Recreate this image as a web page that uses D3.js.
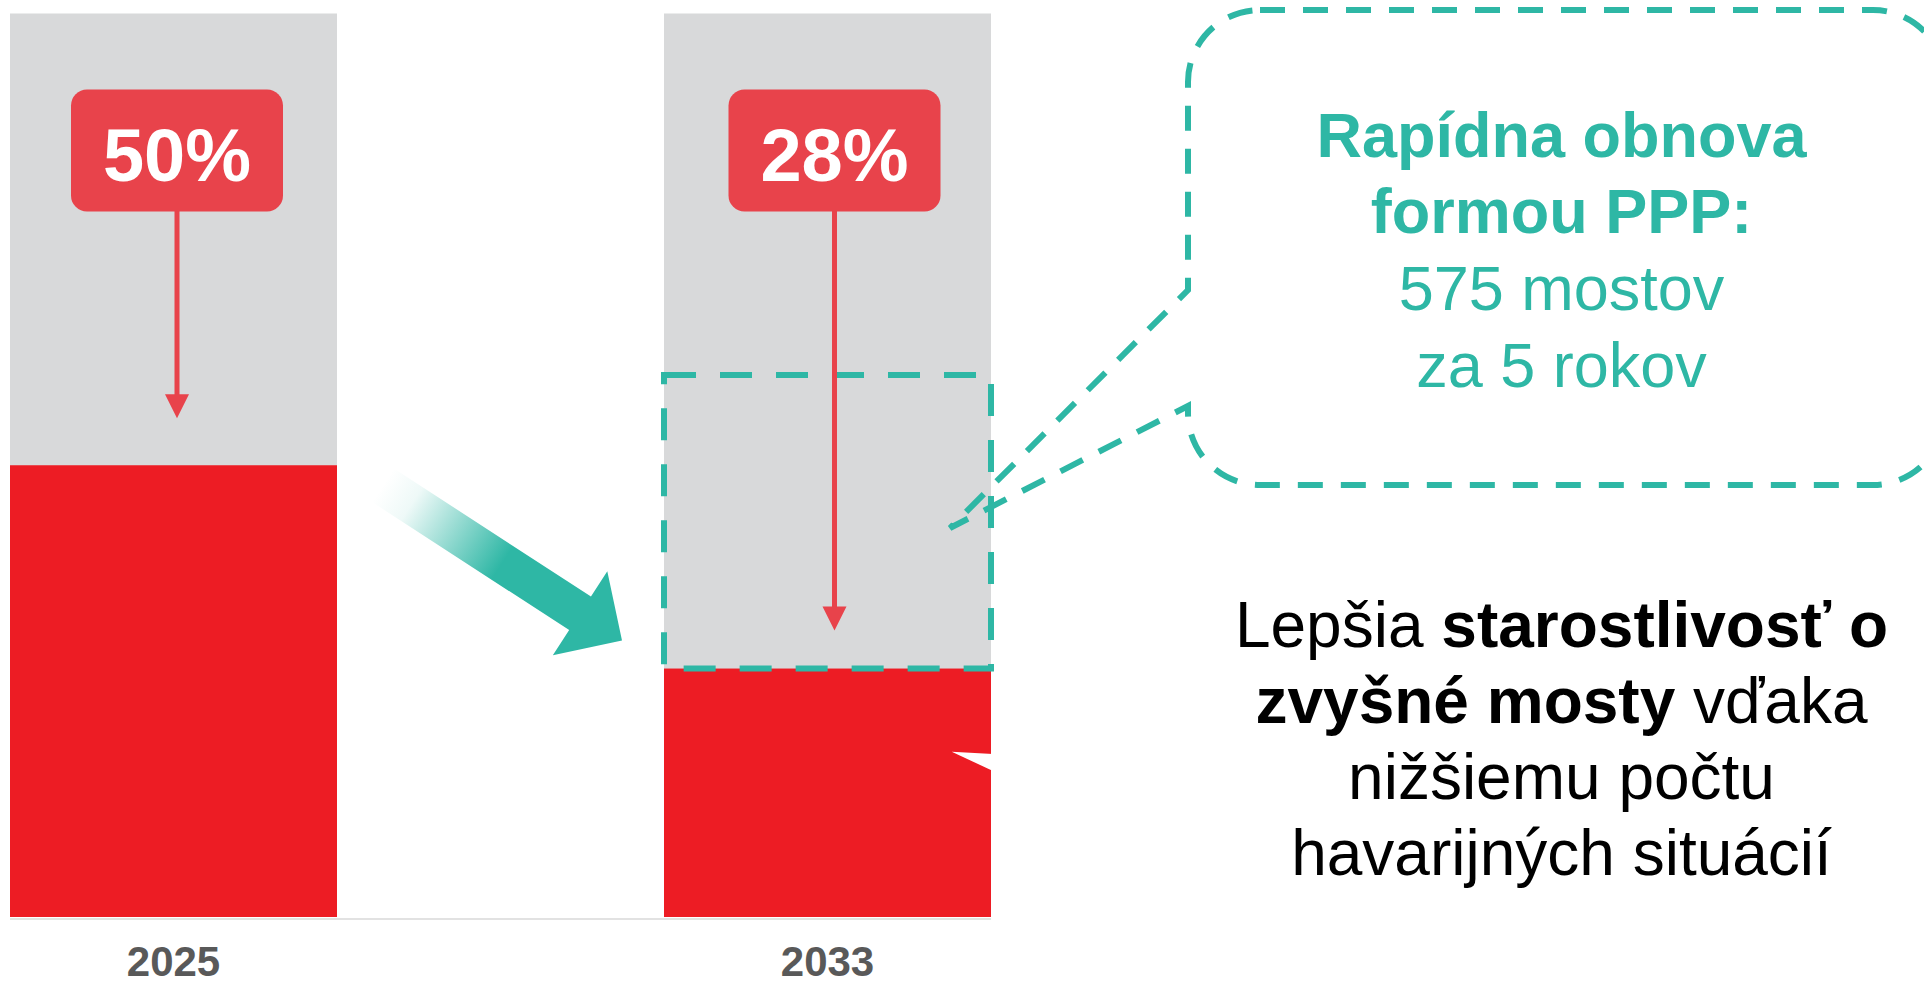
<!DOCTYPE html>
<html>
<head>
<meta charset="utf-8">
<script src="https://cdn.jsdelivr.net/npm/d3@7"></script>
<style>
  html, body { margin: 0; padding: 0; background: #fff; }
  svg { display: block; font-family: "Liberation Sans", Arial, sans-serif; }
</style>
</head>
<body>
<div id="chart"></div>
<script>
// ---- data ----
const years = ["2025", "2033"];
const shareValues = [50, 27.5];          // red part of each bar (%)
const shareLabels = ["50%", "28%"];
const pointerEnds = [55.2, 31.7];        // where the red pointer arrows stop (%)
const pppRange = [27.5, 60];             // dashed box on the 2033 bar (%)
const pppLines = [
  { text: "Rapídna obnova", bold: true },
  { text: "formou PPP:", bold: true },
  { text: "575 mostov", bold: false },
  { text: "za 5 rokov", bold: false }
];
const careLines = [
  [{ t: "Lepšia ", b: false }, { t: "starostlivosť o", b: true }],
  [{ t: "zvyšné mosty", b: true }, { t: " vďaka", b: false }],
  [{ t: "nižšiemu počtu", b: false }],
  [{ t: "havarijných situácií", b: false }]
];

const W = 1924, H = 987;
const RED = "#ed1c24", GREY = "#d8d9da", LABEL = "#e8434b",
      TEAL = "#2eb7a5", YEAR = "#595959";

const svg = d3.select("#chart").append("svg")
  .attr("width", W).attr("height", H)
  .attr("viewBox", `0 0 ${W} ${H}`);

svg.append("rect").attr("width", W).attr("height", H).attr("fill", "#fff");

const x = d3.scaleBand().domain(years).range([10, 991]).paddingInner(0.5);
const y = d3.scaleLinear().domain([0, 100]).range([917, 13.5]);

// ---- speech bubble shape (white fill drawn under the bars) ----
const bub = { L: 1188, T: 10, R: 1945, B: 485, r: 72 };
const tailTip = [950, 528];
const bp = d3.path();
bp.moveTo(bub.L + bub.r, bub.T);
bp.lineTo(bub.R - bub.r, bub.T);
bp.arcTo(bub.R, bub.T, bub.R, bub.T + bub.r, bub.r);
bp.lineTo(bub.R, bub.B - bub.r);
bp.arcTo(bub.R, bub.B, bub.R - bub.r, bub.B, bub.r);
bp.lineTo(bub.L + bub.r, bub.B);
bp.arcTo(bub.L, bub.B, bub.L, bub.B - bub.r, bub.r);
bp.lineTo(bub.L, 406);
bp.lineTo(tailTip[0], tailTip[1]);
bp.lineTo(bub.L, 290);
bp.lineTo(bub.L, bub.T + bub.r);
bp.arcTo(bub.L, bub.T, bub.L + bub.r, bub.T, bub.r);
bp.closePath();

svg.append("path").attr("d", bp.toString()).attr("fill", "#fff");

// ---- bars ----
const bars = svg.append("g");
bars.selectAll(".bg")
  .data(years)
  .join("rect")
  .attr("class", "bg")
  .attr("x", d => x(d))
  .attr("y", y(100))
  .attr("width", x.bandwidth())
  .attr("height", y(0) - y(100))
  .attr("fill", GREY);

bars.selectAll(".share")
  .data(years.map((d, i) => ({ year: d, v: shareValues[i] })))
  .join("rect")
  .attr("class", "share")
  .attr("x", d => x(d.year))
  .attr("y", d => y(d.v))
  .attr("width", x.bandwidth())
  .attr("height", d => y(0) - y(d.v))
  .attr("fill", RED);

// baseline
svg.append("line")
  .attr("x1", x.range()[0]).attr("x2", x.range()[1])
  .attr("y1", y(0) + 2).attr("y2", y(0) + 2)
  .attr("stroke", "#e2e2e2").attr("stroke-width", 2);

// year labels
svg.selectAll(".year")
  .data(years)
  .join("text")
  .attr("class", "year")
  .attr("x", d => x(d) + x.bandwidth() / 2)
  .attr("y", 976)
  .attr("text-anchor", "middle")
  .attr("font-size", 42)
  .attr("font-weight", "bold")
  .attr("fill", YEAR)
  .text(d => d);

// white notch of the hidden second callout
const x2r = x("2033") + x.bandwidth();
svg.append("path")
  .attr("d", `M951.7,751.7L${x2r + 2},754L${x2r + 2},771Z`)
  .attr("fill", "#fff");

// ---- dashed PPP box on the 2033 bar ----
svg.append("rect")
  .attr("x", x("2033"))
  .attr("y", y(pppRange[1]))
  .attr("width", x.bandwidth())
  .attr("height", y(pppRange[0]) - y(pppRange[1]))
  .attr("fill", "none")
  .attr("stroke", TEAL)
  .attr("stroke-width", 6)
  .attr("stroke-dasharray", "32 24");

// bubble outline
svg.append("path").attr("d", bp.toString())
  .attr("fill", "none")
  .attr("stroke", TEAL)
  .attr("stroke-width", 6)
  .attr("stroke-dasharray", "25 18");

// ---- big teal arrow with fading tail ----
const ang = 33 * Math.PI / 180;
const u = [Math.cos(ang), Math.sin(ang)], n = [-Math.sin(ang), Math.cos(ang)];
const tip = [x("2033") - 42, y(30.6)];
const headLen = 50, headHalf = 50, shaftHalf = 20, totalLen = 285;
const pt = (along, side) => [tip[0] - along * u[0] + side * n[0], tip[1] - along * u[1] + side * n[1]];
const arrowPts = [
  pt(0, 0),
  pt(headLen, -headHalf),
  pt(headLen, -shaftHalf),
  pt(totalLen, -shaftHalf),
  pt(totalLen, shaftHalf),
  pt(headLen, shaftHalf),
  pt(headLen, headHalf)
];
const tail = pt(totalLen, 0);
const defs = svg.append("defs");
const grad = defs.append("linearGradient")
  .attr("id", "arrowGrad")
  .attr("gradientUnits", "userSpaceOnUse")
  .attr("x1", tail[0]).attr("y1", tail[1])
  .attr("x2", tip[0]).attr("y2", tip[1]);
grad.append("stop").attr("offset", 0).attr("stop-color", TEAL).attr("stop-opacity", 0);
grad.append("stop").attr("offset", 0.12).attr("stop-color", TEAL).attr("stop-opacity", 0.08);
grad.append("stop").attr("offset", 0.5).attr("stop-color", TEAL).attr("stop-opacity", 1);
grad.append("stop").attr("offset", 1).attr("stop-color", TEAL).attr("stop-opacity", 1);

svg.append("path")
  .attr("d", d3.line()(arrowPts) + "Z")
  .attr("fill", "url(#arrowGrad)");

// ---- percentage boxes with pointer arrows ----
const boxW = 212, boxH = 122, boxTop = y(100) + 76;
const boxShift = [3.5, 7];
const ptr = svg.append("g");
years.forEach((yr, i) => {
  const cx = x(yr) + x.bandwidth() / 2 + boxShift[i];
  const tipY = y(pointerEnds[i]);
  ptr.append("line")
    .attr("x1", cx).attr("x2", cx)
    .attr("y1", boxTop + boxH - 2).attr("y2", tipY - 20)
    .attr("stroke", LABEL).attr("stroke-width", 5);
  ptr.append("path")
    .attr("d", `M${cx - 12},${tipY - 24}L${cx + 12},${tipY - 24}L${cx},${tipY}Z`)
    .attr("fill", LABEL);
  ptr.append("rect")
    .attr("x", cx - boxW / 2).attr("y", boxTop)
    .attr("width", boxW).attr("height", boxH)
    .attr("rx", 16).attr("ry", 16)
    .attr("fill", LABEL);
  ptr.append("text")
    .attr("x", cx).attr("y", boxTop + 91)
    .attr("text-anchor", "middle")
    .attr("font-size", 74)
    .attr("font-weight", "bold")
    .attr("fill", "#fff")
    .text(shareLabels[i]);
});

// ---- callout texts ----
const textCx = 1561.5;
svg.append("g").selectAll("text")
  .data(pppLines)
  .join("text")
  .attr("x", textCx)
  .attr("y", (d, i) => 156.7 + i * 76.7)
  .attr("text-anchor", "middle")
  .attr("font-size", 63)
  .attr("font-weight", d => d.bold ? "bold" : "normal")
  .attr("fill", TEAL)
  .text(d => d.text);

const care = svg.append("g").selectAll("text")
  .data(careLines)
  .join("text")
  .attr("x", textCx)
  .attr("y", (d, i) => 646.7 + i * 76)
  .attr("text-anchor", "middle")
  .attr("font-size", 64)
  .attr("fill", "#000");
care.selectAll("tspan")
  .data(d => d)
  .join("tspan")
  .attr("font-weight", d => d.b ? "bold" : "normal")
  .text(d => d.t);
</script>
</body>
</html>
